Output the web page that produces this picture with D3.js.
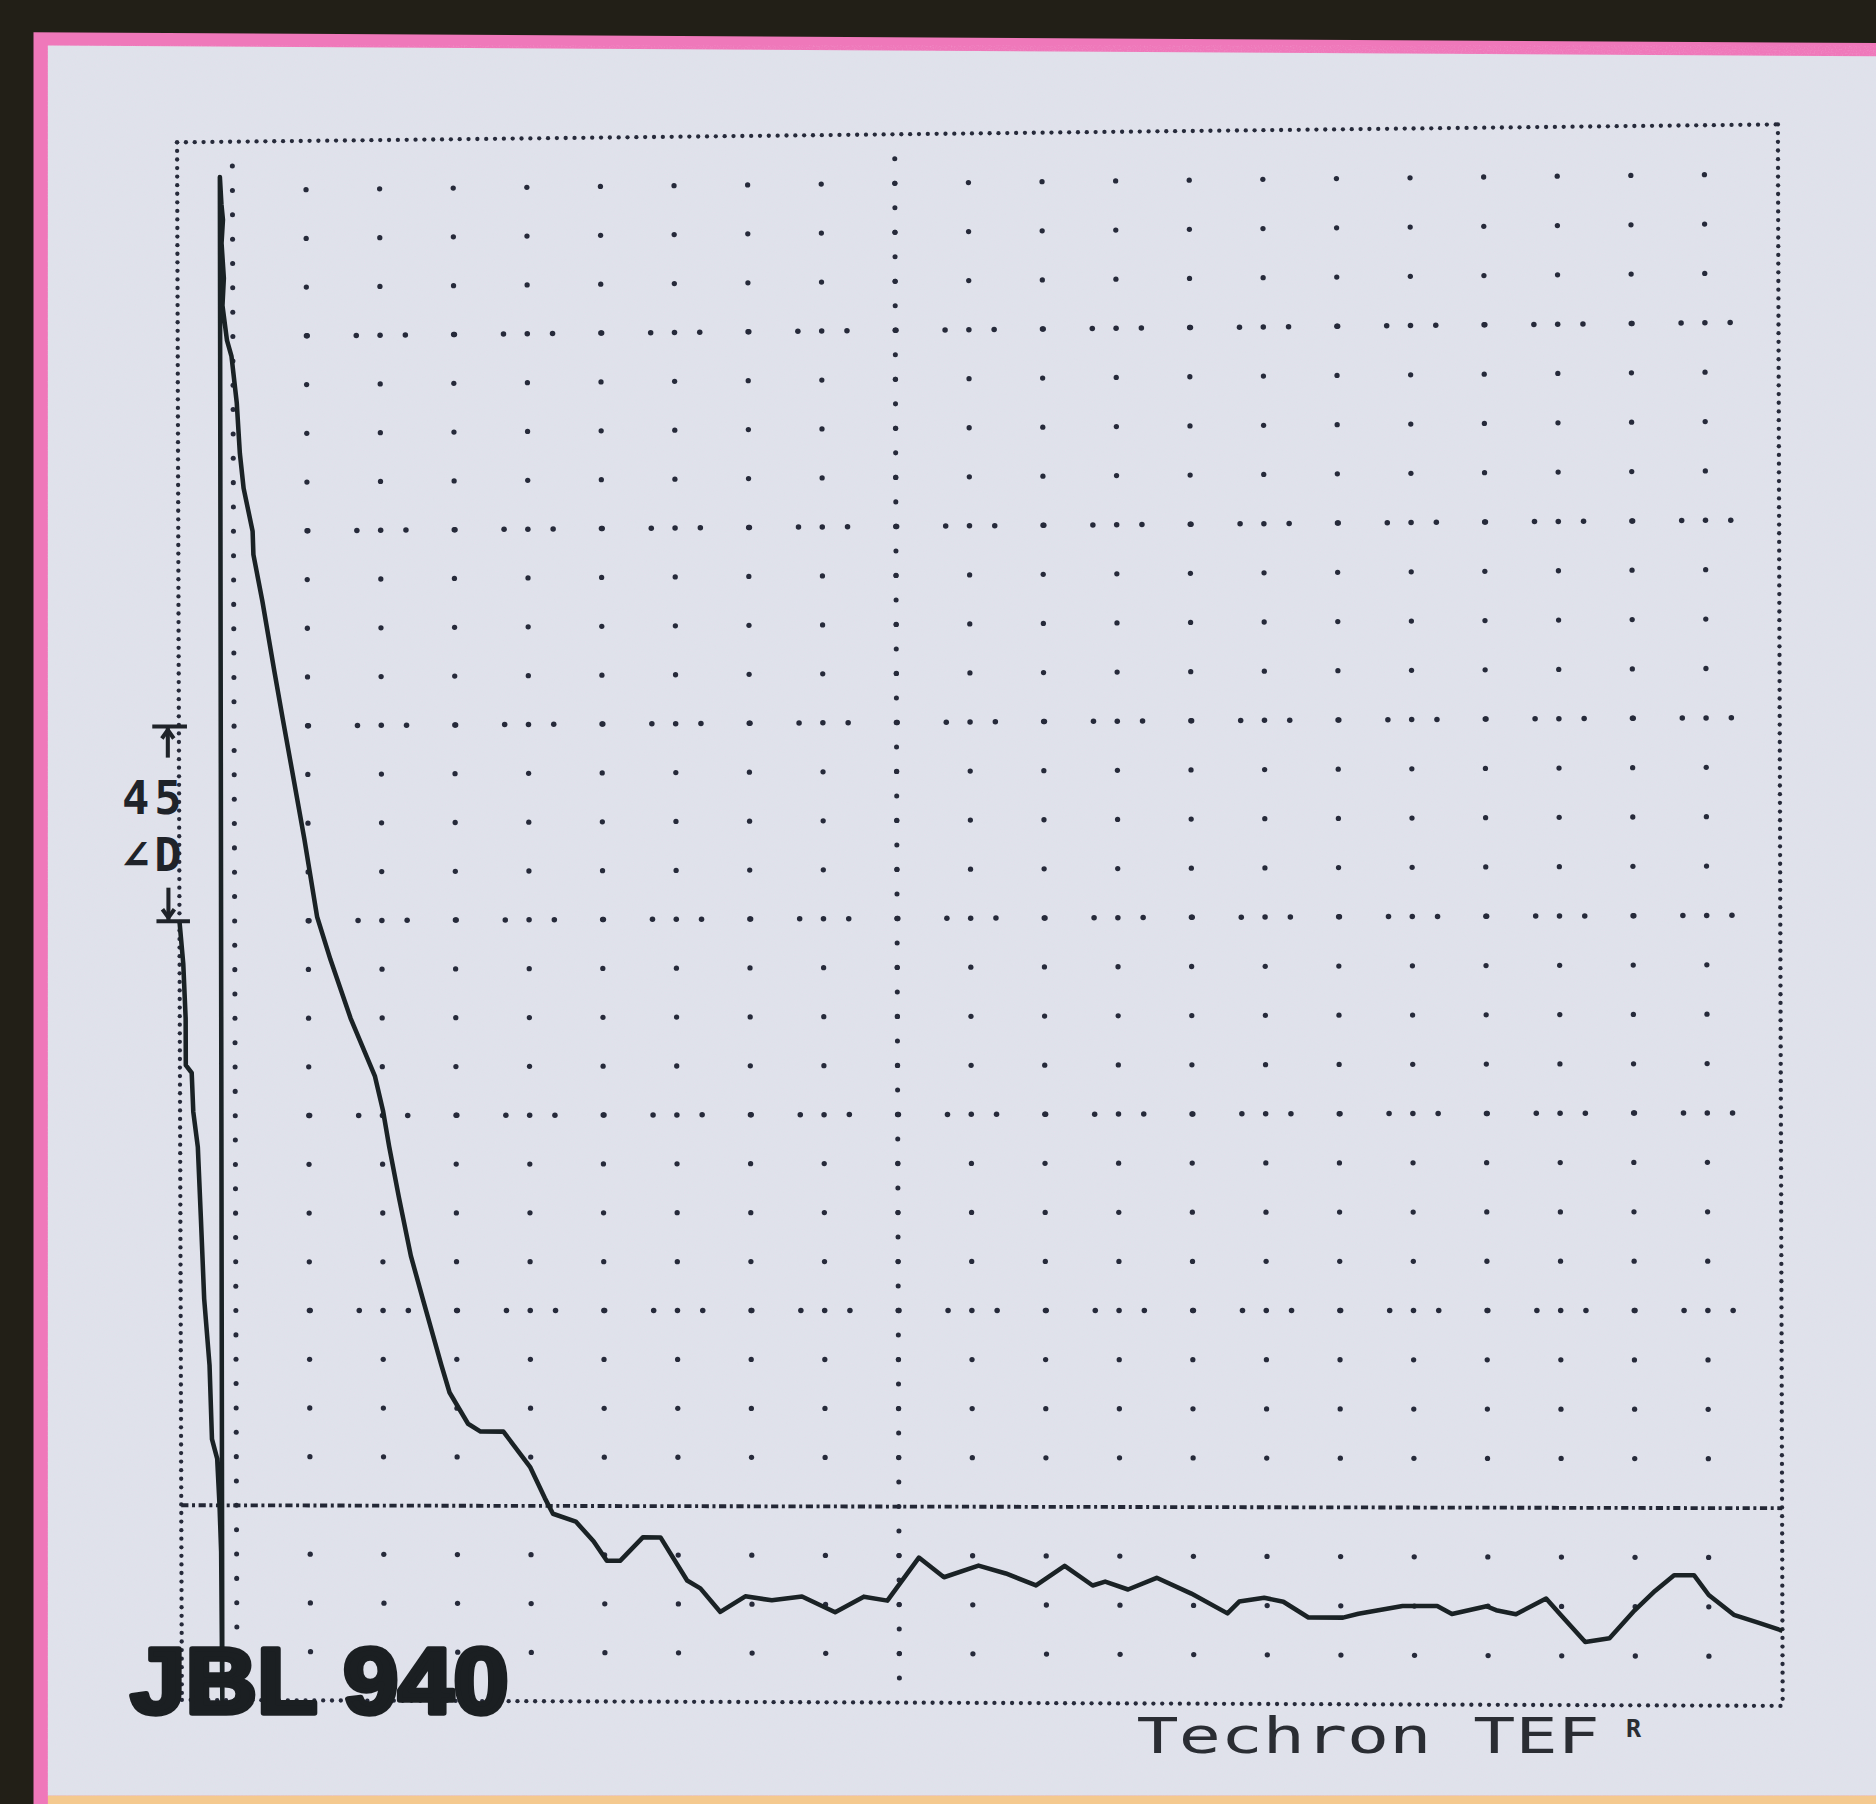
<!DOCTYPE html>
<html>
<head>
<meta charset="utf-8">
<script src="https://cdn.jsdelivr.net/npm/d3@7"></script>
<style>
  html, body { margin: 0; padding: 0; background: #221f17; }
  svg { display: block; }
</style>
</head>
<body>
<div id="chart"></div>
<script>
// ETC trace, time in ms (one grid column = 1 ms), level in dB
let preTime  = [-0.75, -0.70, -0.67, -0.67, -0.59, -0.57, -0.51, -0.47, -0.43, -0.36, -0.33, -0.26, -0.23, -0.21, -0.20];
let preLevel = [-20.0, -21.1, -22.5, -23.7, -23.9, -24.9, -25.8, -27.7, -29.7, -31.4, -33.3, -33.8, -35.0, -36.2, -40.0];

let decayTime = [-0.17, -0.15, -0.13, -0.15, -0.12, -0.14, -0.08, -0.02, 0.05, 0.09, 0.14, 0.26, 0.27, 0.39, 0.55, 0.66,
    0.81, 0.95, 1.12, 1.30, 1.57, 1.90, 2.01, 2.09, 2.22, 2.38, 2.54, 2.79, 2.90, 3.15, 3.32, 3.63, 3.99, 4.19, 4.30,
    4.61, 4.85, 5.03, 5.21, 5.52, 5.76, 6.12, 6.30, 6.57, 6.91, 7.27, 7.68, 8.13, 8.52, 8.84, 9.27, 9.61, 10.08, 10.45,
    10.86, 11.25, 11.63, 11.80, 12.11, 12.50, 12.97, 13.46, 13.62, 13.96, 14.22, 14.56, 15.03, 15.24, 15.84, 16.31,
    16.51, 16.98, 17.11, 17.38, 17.79, 17.98, 18.32, 18.65, 18.99, 19.27, 19.53, 19.80, 20.00, 20.34, 20.68, 21.00];
let decayLevel = [-0.9, -1.6, -2.0, -2.6, -3.5, -4.2, -5.1, -5.5, -6.7, -8.0, -8.9, -10.0, -10.6, -11.8, -13.6, -14.8,
    -16.4, -17.9, -19.9, -21.0, -22.5, -24.0, -24.9, -25.8, -27.1, -28.6, -29.7, -31.4, -32.1, -32.9, -33.1, -33.1, -34.0,
    -34.8, -35.2, -35.4, -35.9, -36.4, -36.4, -35.8, -35.8, -36.9, -37.1, -37.7, -37.3, -37.4, -37.3, -37.7, -37.3, -37.4,
    -36.3, -36.8, -36.5, -36.7, -37.0, -36.5, -37.0, -36.9, -37.1, -36.8, -37.2, -37.7, -37.4, -37.3, -37.4, -37.8, -37.8,
    -37.7, -37.5, -37.5, -37.7, -37.5, -37.6, -37.7, -37.3, -37.7, -38.4, -38.3, -37.6, -37.1, -36.7, -36.7, -37.2, -37.7,
    -37.9, -38.1];

// grid
let timeDomain = [-0.75, 21];
let levelDomain = [0, -40];
let dotColumns = d3.range(1, 21);                     // ms
let denseColumns = [0, 9];                            // dotted verticals
let minorLevels = d3.range(1, 32).filter(j => j % 4).map(j => -j * 1.25);
let majorLevels = [-5, -10, -15, -20, -25, -30];
let refLevel = -35;

// labels
let modelLabel = 'JBL 940';
let brandLabel = 'Techron TEF';
let scaleDigits = '45';
let scaleUnit = '∠D';

let W = 1568, H = 1508;
// plot corners on the photographed sheet (slight keystone)
let TL = [148, 119], TR = [1486, 104], BL = [152, 1421], BR = [1490, 1426];

function warp(u, v) {
    let tx = TL[0] + (TR[0] - TL[0]) * u, ty = TL[1] + (TR[1] - TL[1]) * u;
    let bx = BL[0] + (BR[0] - BL[0]) * u, by = BL[1] + (BR[1] - BL[1]) * u;
    return [tx + (bx - tx) * v, ty + (by - ty) * v];
}

let x = d3.scaleLinear().domain(timeDomain).range([0, 1]);
let y = d3.scaleLinear().domain(levelDomain).range([0, 1]);
let P = (t, db) => warp(x(t), y(db));

let svg = d3.select('#chart').append('svg')
    .attr('width', 1876).attr('height', 1804)
    .attr('viewBox', '0 0 ' + W + ' ' + H)
    .attr('preserveAspectRatio', 'none');

let defs = svg.append('defs');
let f = defs.append('filter').attr('id', 'grain').attr('x', 0).attr('y', 0).attr('width', '100%').attr('height', '100%');
f.append('feTurbulence').attr('type', 'fractalNoise').attr('baseFrequency', 0.85).attr('numOctaves', 1).attr('seed', 7);
f.append('feColorMatrix').attr('type', 'matrix')
    .attr('values', '0 0 0 0 0.92  0 0 0 0 0.66  0 0 0 0 0.84  1.1 0 0 0 -0.52');

// sheet
svg.append('rect').attr('width', W).attr('height', H).attr('fill', '#221f17');
svg.append('polygon').attr('points', '28,27 1568,36 1568,1508 28,1508').attr('fill', '#ef78ba');
svg.append('polygon').attr('points', '40,38 1568,47 1568,1501 40,1501').attr('fill', '#dfe2eb');
svg.append('rect').attr('x', 40).attr('y', 1501).attr('width', W - 40).attr('height', 7).attr('fill', '#f4c98f');
svg.append('polygon').attr('points', '40,38 1568,47 1568,1501 40,1501')
    .attr('filter', 'url(#grain)').attr('opacity', 0.45);

let grid = svg.append('g').attr('fill', '#262a3a');

// frame dots
let frame = [];
d3.range(timeDomain[0], timeDomain[1] + 0.01, 0.12).forEach(t => {
    frame.push(P(t, levelDomain[0]));
    frame.push(P(t, levelDomain[1]));
});
d3.range(0, -40.01, -0.22).forEach(db => {
    frame.push(P(timeDomain[0], db));
    frame.push(P(timeDomain[1], db));
});
grid.selectAll('circle.frame').data(frame).join('circle')
    .attr('class', 'frame').attr('cx', d => d[0]).attr('cy', d => d[1]).attr('r', 1.8);

// minor rows: one dot per column
let minorDots = [];
minorLevels.forEach(db => dotColumns.forEach(t => minorDots.push(P(t, db))));
grid.selectAll('circle.minor').data(minorDots).join('circle')
    .attr('class', 'minor').attr('cx', d => d[0]).attr('cy', d => d[1]).attr('r', 2.2);

// major rows: columns plus finer pitch
let majorDots = [];
majorLevels.forEach(db => {
    dotColumns.forEach(t => majorDots.push(P(t, db)));
    d3.range(1, 20.6, 2 / 3).forEach(t => majorDots.push(P(t + 0.01, db)));
});
grid.selectAll('circle.major').data(majorDots).join('circle')
    .attr('class', 'major').attr('cx', d => d[0]).attr('cy', d => d[1]).attr('r', 2.3);

// dotted verticals
let denseDots = [];
denseColumns.forEach(t => d3.range(1, 64).forEach(i => denseDots.push(P(t, -i * 0.625))));
grid.selectAll('circle.dense').data(denseDots).join('circle')
    .attr('class', 'dense').attr('cx', d => d[0]).attr('cy', d => d[1]).attr('r', 2.1);

// reference line
let refEnds = [P(timeDomain[0], refLevel), P(timeDomain[1], refLevel)];
svg.append('line')
    .attr('x1', refEnds[0][0]).attr('y1', refEnds[0][1])
    .attr('x2', refEnds[1][0]).attr('y2', refEnds[1][1])
    .attr('stroke', '#232735').attr('stroke-width', 3.2)
    .attr('stroke-dasharray', '6 3 2.5 3');

// trace
let trace = preTime.map((t, i) => ({t: t, db: preLevel[i]}))
    .concat(decayTime.map((t, i) => ({t: t, db: decayLevel[i]})));

let line = d3.line()
    .x(d => P(d.t, d.db)[0])
    .y(d => P(d.t, d.db)[1]);

svg.append('path')
    .datum(trace)
    .attr('fill', 'none')
    .attr('stroke', '#1a2225')
    .attr('stroke-width', 3.8)
    .attr('stroke-linejoin', 'round')
    .attr('d', line);

// scale marker (one major division)
let mk = svg.append('g').attr('stroke', '#1f2329').attr('stroke-width', 3.4).attr('fill', 'none');
let mkTop = P(-0.9, -15), mkBot = P(-0.9, -20);
mk.append('line').attr('x1', mkTop[0] - 13).attr('x2', mkTop[0] + 16).attr('y1', mkTop[1]).attr('y2', mkTop[1]);
mk.append('line').attr('x1', mkTop[0]).attr('x2', mkTop[0]).attr('y1', mkTop[1]).attr('y2', mkTop[1] + 26);
mk.append('polyline').attr('points', [[mkTop[0] - 5, mkTop[1] + 10], [mkTop[0], mkTop[1] + 3], [mkTop[0] + 5, mkTop[1] + 10]].join(' '));
mk.append('line').attr('x1', mkBot[0]).attr('x2', mkBot[0]).attr('y1', mkBot[1] - 28).attr('y2', mkBot[1]);
mk.append('polyline').attr('points', [[mkBot[0] - 5, mkBot[1] - 10], [mkBot[0], mkBot[1] - 3], [mkBot[0] + 5, mkBot[1] - 10]].join(' '));
mk.append('line').attr('x1', mkBot[0] - 10).attr('x2', mkBot[0] + 18).attr('y1', mkBot[1]).attr('y2', mkBot[1]);

let mono = '"DejaVu Sans Mono", "Liberation Mono", monospace';
svg.append('text').text(scaleDigits)
    .attr('x', 102).attr('y', P(-0.9, -17.25)[1])
    .attr('font-family', mono).attr('font-size', 38).attr('font-weight', 700).attr('letter-spacing', 4)
    .attr('fill', '#1f2329');
svg.append('text').text(scaleUnit)
    .attr('x', 102).attr('y', P(-0.9, -18.7)[1])
    .attr('font-family', mono).attr('font-size', 38).attr('font-weight', 700).attr('letter-spacing', 4)
    .attr('fill', '#1f2329');

// captions
svg.append('text').text(modelLabel)
    .attr('x', 109).attr('y', 1432)
    .attr('textLength', 316).attr('lengthAdjust', 'spacingAndGlyphs')
    .attr('font-family', '"Liberation Sans", Arial, sans-serif')
    .attr('font-weight', 700).attr('font-size', 78)
    .attr('fill', '#1b1f22').attr('stroke', '#1b1f22').attr('stroke-width', 4.5)
    .attr('stroke-linejoin', 'round');

svg.append('text').text(brandLabel)
    .attr('x', 950).attr('y', 1465)
    .attr('textLength', 387).attr('lengthAdjust', 'spacingAndGlyphs')
    .attr('font-family', mono).attr('font-size', 41)
    .attr('fill', '#2a2d33');
svg.append('text').text('R')
    .attr('x', 1359).attr('y', 1452)
    .attr('font-family', mono).attr('font-size', 21).attr('font-weight', 700)
    .attr('fill', '#2a2d33');
</script>
</body>
</html>
